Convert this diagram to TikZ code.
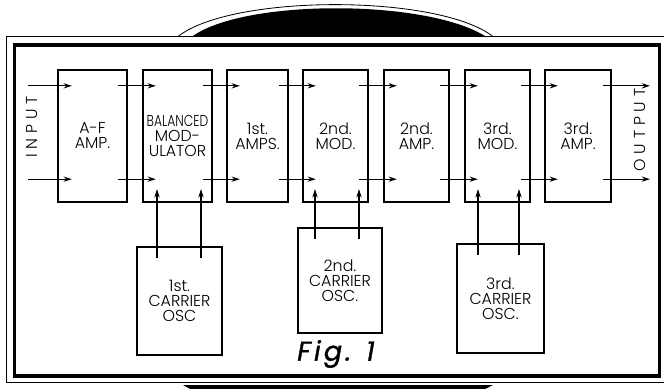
\documentclass[tikz,border=0pt]{standalone}
\usepackage{fontspec}
\setmainfont{Poppins Light}
\newfontfamily\spacedfont{Poppins Light}[LetterSpace=30]
\newfontfamily\figfont{Poppins Italic}[LetterSpace=12, FakeBold=1.2]
\usetikzlibrary{arrows.meta, calc}

\begin{document}
\begin{tikzpicture}[
      x=0.03cm, y=-0.03cm,
      >={Stealth[length=7pt,width=4.5pt]},
      font=\fontsize{13.5}{12.8}\selectfont,
      stagebox/.style={draw, line width=2pt, minimum width=#1, minimum height=3.96cm, align=center, inner sep=1pt},
      oscbox/.style={draw, line width=2pt, align=center, inner sep=1pt},
      signal/.style={->, line width=1.05pt},
      sidelabel/.style={rotate=90, font=\fontsize{13.5}{14}\spacedfont},
  ]
  \useasboundingbox (0,0) rectangle (664,389);

  % --- frame ---
  \fill (193,36) .. controls (245,-1) and (425,-1) .. (485,36) -- cycle;
  \draw[line width=0.7pt] (178,36.5) .. controls (232,-6) and (438,-6) .. (493,36.5);
  \fill (183,385) .. controls (240,420) and (430,420) .. (493,385) -- cycle;
  \draw[line width=0.7pt] (6.5,36.5) rectangle (670,382.5);
  \draw[line width=2.8pt] (14.5,45) rectangle (659.5,376);

  % --- stages (all at same y) ---
  \def\stagey{136}
  \node[stagebox=2.07cm] (af) at (92.5,\stagey) {A-F\\AMP.};
  \node[stagebox=2.07cm] (bal) at (177.5,\stagey) {\scalebox{0.78}[1]{BALANCED}\\MOD-\\ULATOR};
  \node[stagebox=1.83cm] (amp1) at (257.5,\stagey) {1st.\\AMPS.};
  \node[stagebox=1.95cm] (mod2) at (335.5,\stagey) {2nd.\\MOD.};
  \node[stagebox=1.95cm] (amp2) at (416.5,\stagey) {2nd.\\AMP.};
  \node[stagebox=1.95cm] (mod3) at (497.5,\stagey) {3rd.\\MOD.};
  \node[stagebox=1.98cm] (amp3) at (578,\stagey) {3rd.\\AMP.};

  % --- carrier oscillators ---
  \node[oscbox, minimum width=2.55cm, minimum height=3.24cm] (osc1) at (179.5,301) {1st.\\CARRIER\\OSC};
  \node[oscbox, minimum width=2.52cm, minimum height=3.15cm] (osc2) at (340,280.5) {2nd.\\CARRIER\\OSC.};
  \node[oscbox, minimum width=2.61cm, minimum height=3.27cm] (osc3) at (500.5,298.5) {3rd.\\CARRIER\\OSC.};

  % --- input / output ---
  \node[sidelabel] (input) at (32,127) {INPUT};
  \node[sidelabel] (output) at (640,130) {OUTPUT};
  \coordinate (inx) at (28,0);
  \coordinate (outx) at (650,0);

  % --- signal rows ---
  \coordinate (hi) at ($(af.north)+(0,17)$);
  \coordinate (lw) at ($(af.south)+(0,-24)$);
  \coordinate (up) at ($(af.south)+(0,-14)$);

  \foreach \r in {hi,lw} {
    \draw[signal] (inx |- \r) -- ($(af.west |- \r)+(15,0)$);
    \draw[signal] ($(amp3.east |- \r)+(-9,0)$) -- (outx |- \r);
  }
  \foreach \a/\b in {af/bal, bal/amp1, amp1/mod2, mod2/amp2, amp2/mod3, mod3/amp3}
    \foreach \r in {hi,lw}
      \draw[signal] ($(\a.east |- \r)+(-10,0)$) -- ($(\b.west |- \r)+(14,0)$);

  % --- carrier feeds ---
  \foreach \o/\dx in {osc1/-22.5, osc1/21.5, osc2/-25, osc2/19, osc3/-22.5, osc3/18.5} {
    \coordinate (feed) at ($(\o.north)+(\dx,12)$);
    \draw[signal] (feed) -- (feed |- up);
  }

  \node[font=\fontsize{23}{26}\figfont] (fig) at (336,354) {Fig. 1};

  \end{tikzpicture}
\end{document}
